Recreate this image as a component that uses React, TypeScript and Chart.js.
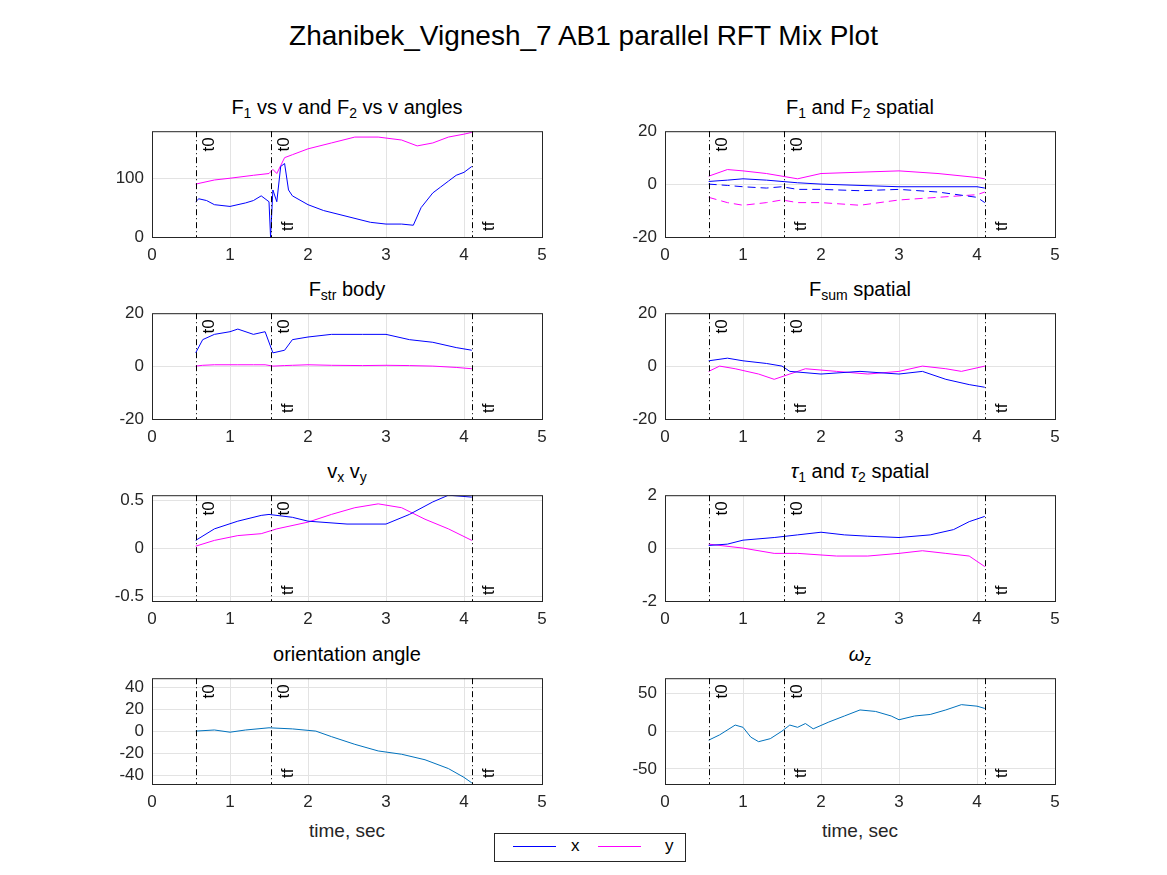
import React, { useEffect, useRef } from "react";
import { Chart, registerables } from "chart.js";
Chart.register(...registerables);

const BLUE = "#0000ff";
const MAG = "#ff00ff";
const DEF = "#0072BD";
const eventLines = [0.56, 1.52, 4.1];
const xTicks = [0, 1, 2, 3, 4, 5];

// Plot 1
const t1b = [0.56,0.6,0.7,0.8,1.0,1.2,1.3,1.4,1.5,1.52,1.55,1.6,1.65,1.7,1.75,1.8,2.0,2.2,2.5,2.8,3.0,3.2,3.35,3.45,3.6,3.7,3.8,3.9,4.0,4.1];
const f1b = [60,65,62,55,52,58,62,70,60,0,80,60,120,125,80,70,55,45,35,25,22,22,20,50,75,85,95,105,110,120];
const t1m = [0.56,0.8,1.0,1.3,1.5,1.55,1.6,1.7,1.8,2.0,2.3,2.6,2.9,3.2,3.4,3.6,3.8,4.0,4.1];
const f1m = [90,97,100,105,108,115,108,135,140,150,160,170,170,165,155,160,170,175,178];
// Plot 2
const t2 = [0.56,0.8,1.0,1.3,1.5,1.7,2.0,2.5,3.0,3.5,4.0,4.1];
const f2bs = [1,1.5,2,1.5,1,0.5,0,-0.5,-1,-1,-1,-1.5];
const f2bd = [0,-0.5,-1,-1.5,-1,-2,-2,-2.5,-2,-3,-5,-7];
const f2ms = [3,5.5,5,4,3,2,4,4.5,5,4,2.5,2];
const f2md = [-5,-7,-8,-7,-6,-7,-7,-8,-6,-5,-4,-3];
// Plot 3
const t3 = [0.56,0.65,0.8,1.0,1.1,1.3,1.45,1.55,1.7,1.8,2.0,2.3,2.7,3.0,3.3,3.6,3.9,4.1];
const f3b = [5,10,12,13,14,12,13,5,6,10,11,12,12,12,10,9,7,6];
const f3m = [0,0.3,0.5,0.5,0.5,0.5,0.5,0,0.2,0.3,0.5,0.3,0.2,0.3,0.2,0,-0.5,-1];
// Plot 4
const t4b = [0.56,0.8,1.0,1.3,1.5,1.6,2.0,2.5,3.0,3.3,3.6,3.9,4.1];
const f4b = [2,3,2,1,0,-2,-3,-2,-3,-2,-5,-7,-8];
const t4m = [0.56,0.7,0.9,1.2,1.4,1.6,1.8,2.2,2.6,3.0,3.3,3.6,3.8,4.1];
const f4m = [-2,0,-1,-3,-5,-3,-1,-2,-3,-2,0,-1,-2,0];
// Plot 5
const t5b = [0.56,0.8,1.1,1.4,1.5,1.8,2.0,2.5,3.0,3.3,3.6,3.8,4.1];
const v5b = [0.08,0.2,0.28,0.34,0.35,0.32,0.28,0.25,0.25,0.35,0.48,0.55,0.53];
const t5m = [0.56,0.8,1.1,1.4,1.6,2.0,2.3,2.6,2.9,3.2,3.5,3.8,4.1];
const v5m = [0.02,0.08,0.13,0.15,0.2,0.27,0.35,0.42,0.46,0.42,0.3,0.2,0.08];
// Plot 6
const t6b = [0.56,0.8,1.0,1.4,1.7,2.0,2.3,2.6,3.0,3.4,3.7,3.9,4.1];
const v6b = [0.1,0.15,0.3,0.4,0.5,0.6,0.5,0.45,0.4,0.5,0.7,1.0,1.2];
const t6m = [0.56,1.0,1.4,1.7,2.2,2.6,3.0,3.3,3.6,3.9,4.1];
const v6m = [0.15,0,-0.2,-0.2,-0.3,-0.3,-0.2,-0.1,-0.2,-0.3,-0.7];
// Plot 7
const t7 = [0.56,0.8,1.0,1.2,1.5,1.8,2.1,2.3,2.6,2.9,3.2,3.5,3.8,4.0,4.1];
const v7 = [0,1,-1,1,3,2,0,-5,-12,-18,-21,-26,-34,-42,-47];
// Plot 8
const t8 = [0.56,0.7,0.9,1.0,1.1,1.2,1.35,1.5,1.6,1.7,1.8,1.9,2.1,2.3,2.5,2.7,2.9,3.0,3.2,3.4,3.6,3.8,4.0,4.1];
const v8 = [-12,-5,8,5,-8,-14,-10,0,8,5,10,3,12,20,28,26,20,15,20,22,28,35,33,30];

const pts = (t: number[], v: number[]) => t.map((x, i) => ({ x, y: v[i] }));
const ds = (t: number[], v: number[], color: string, dash: number[] = []) => ({
  data: pts(t, v), borderColor: color, borderWidth: 1, borderDash: dash, pointRadius: 0, tension: 0,
});

const FONT = "'Liberation Sans', Arial, sans-serif";

const overlay = {
  id: "overlay",
  afterDraw(chart: any) {
    const { ctx, chartArea: a, scales } = chart;
    const xs = scales.x;
    ctx.save();
    ctx.strokeStyle = "#262626";
    ctx.lineWidth = 1;
    ctx.setLineDash([]);
    ctx.strokeRect(a.left + 0.5, a.top + 0.5, a.right - a.left, a.bottom - a.top);
    ctx.strokeStyle = "#000";
    ctx.setLineDash([6, 3, 1, 3]);
    eventLines.forEach((v) => {
      const px = Math.round(xs.getPixelForValue(v)) + 0.5;
      ctx.beginPath(); ctx.moveTo(px, a.top); ctx.lineTo(px, a.bottom); ctx.stroke();
    });
    ctx.setLineDash([]);
    ctx.fillStyle = "#000";
    ctx.font = `17px ${FONT}`;
    ctx.textBaseline = "middle";
    const lbl = (v: number, txt: string, top: boolean) => {
      const px = xs.getPixelForValue(v) + (top ? 14 : 18);
      ctx.save();
      ctx.translate(px, top ? a.top + 6 : a.bottom - 6);
      ctx.rotate(-Math.PI / 2);
      ctx.textAlign = top ? "right" : "left";
      ctx.fillText(txt, 0, 0);
      ctx.restore();
    };
    lbl(eventLines[0], "t0", true);
    lbl(eventLines[1], "t0", true);
    lbl(eventLines[1], "tf", false);
    lbl(eventLines[2], "tf", false);
    ctx.restore();
  },
};

const PADL = 70, PADR = 20, PADT = 10, PADB = 35, EXTRA = 8;

function Sub(props: { left: number; top: number; w: number; h: number; ymin: number; ymax: number; yticks: number[]; datasets: any[]; title: React.ReactNode; xlabel?: boolean }) {
  const ref = useRef<HTMLCanvasElement>(null);
  useEffect(() => {
    const c = new Chart(ref.current!, {
      type: "line",
      data: { datasets: props.datasets },
      plugins: [overlay],
      options: {
        animation: false, responsive: false, maintainAspectRatio: false,
        layout: { padding: { left: 0, right: PADR, top: PADT, bottom: 0 } },
        plugins: { legend: { display: false }, tooltip: { enabled: false } },
        scales: {
          x: {
            type: "linear", min: 0, max: 5,
            afterBuildTicks: (s: any) => { s.ticks = xTicks.map((v) => ({ value: v })); },
            afterFit: (s: any) => { s.height = PADB; },
            grid: { color: "#e3e3e3", drawTicks: false },
            border: { display: false },
            ticks: { color: "#262626", font: { size: 17, family: FONT }, padding: 8 },
          },
          y: {
            type: "linear", min: props.ymin, max: props.ymax,
            afterBuildTicks: (s: any) => { s.ticks = props.yticks.map((v) => ({ value: v })); },
            afterFit: (s: any) => { s.width = PADL; },
            grid: { color: "#e3e3e3", drawTicks: false },
            border: { display: false },
            ticks: { color: "#262626", font: { size: 17, family: FONT }, padding: 8 },
          },
        },
      } as any,
    });
    return () => c.destroy();
  }, []);
  return (
    <>
      <div style={{ position: "absolute", left: props.left, width: props.w, top: props.top - 35, textAlign: "center", fontSize: 20, fontFamily: FONT, color: "#000", whiteSpace: "nowrap" }}>{props.title}</div>
      <canvas ref={ref} width={props.w + PADL + PADR} height={props.h + PADT + PADB + EXTRA}
        style={{ position: "absolute", left: props.left - PADL, top: props.top - PADT - EXTRA }} />
      {props.xlabel && <div style={{ position: "absolute", left: props.left, width: props.w, top: props.top + props.h + 36, textAlign: "center", fontSize: 19, fontFamily: FONT, color: "#262626" }}>time, sec</div>}
    </>
  );
}

const sub = (s: string) => <sub style={{ fontSize: 14, verticalAlign: "-4px" }}>{s}</sub>;

export default function App() {
  const L = 152, R = 665, W = 390;
  const rows = [131, 313, 495, 678];
  const H = 106;
  return (
    <div style={{ position: "absolute", left: 0, top: 0, width: 1167, height: 875, background: "#fff" }}>
      <div style={{ position: "absolute", left: 0, width: 1167, top: 20, textAlign: "center", fontSize: 28, fontFamily: FONT }}>Zhanibek_Vignesh_7 AB1 parallel RFT Mix Plot</div>
      <Sub left={L} top={rows[0]} w={W} h={H} ymin={0} ymax={180} yticks={[0, 100]}
        datasets={[ds(t1b, f1b, BLUE), ds(t1m, f1m, MAG)]} title={<>F{sub("1")} vs v and F{sub("2")} vs v angles</>} />
      <Sub left={R} top={rows[0]} w={W} h={H} ymin={-20} ymax={20} yticks={[-20, 0, 20]}
        datasets={[ds(t2, f2bs, BLUE), ds(t2, f2bd, BLUE, [8, 5]), ds(t2, f2ms, MAG), ds(t2, f2md, MAG, [8, 5])]} title={<>F{sub("1")} and F{sub("2")} spatial</>} />
      <Sub left={L} top={rows[1]} w={W} h={H} ymin={-20} ymax={20} yticks={[-20, 0, 20]}
        datasets={[ds(t3, f3b, BLUE), ds(t3, f3m, MAG)]} title={<>F{sub("str")} body</>} />
      <Sub left={R} top={rows[1]} w={W} h={H} ymin={-20} ymax={20} yticks={[-20, 0, 20]}
        datasets={[ds(t4b, f4b, BLUE), ds(t4m, f4m, MAG)]} title={<>F{sub("sum")} spatial</>} />
      <Sub left={L} top={rows[2]} w={W} h={H} ymin={-0.55} ymax={0.55} yticks={[-0.5, 0, 0.5]}
        datasets={[ds(t5b, v5b, BLUE), ds(t5m, v5m, MAG)]} title={<>v{sub("x")} v{sub("y")}</>} />
      <Sub left={R} top={rows[2]} w={W} h={H} ymin={-2} ymax={2} yticks={[-2, 0, 2]}
        datasets={[ds(t6b, v6b, BLUE), ds(t6m, v6m, MAG)]} title={<><i>τ</i>{sub("1")} and <i>τ</i>{sub("2")} spatial</>} />
      <Sub left={L} top={rows[3]} w={W} h={H} ymin={-48} ymax={48} yticks={[-40, -20, 0, 20, 40]} xlabel
        datasets={[ds(t7, v7, DEF)]} title={<>orientation angle</>} />
      <Sub left={R} top={rows[3]} w={W} h={H} ymin={-70} ymax={70} yticks={[-50, 0, 50]} xlabel
        datasets={[ds(t8, v8, DEF)]} title={<><i>ω</i>{sub("z")}</>} />
      <div style={{ position: "absolute", left: 494, top: 833, width: 190, height: 27, border: "1px solid #262626", background: "#fff", fontFamily: FONT, fontSize: 17 }}>
        <div style={{ position: "absolute", left: 18, top: 12, width: 43, height: 1, background: BLUE }} />
        <div style={{ position: "absolute", left: 76, top: 2 }}>x</div>
        <div style={{ position: "absolute", left: 103, top: 12, width: 43, height: 1, background: MAG }} />
        <div style={{ position: "absolute", left: 170, top: 2 }}>y</div>
      </div>
    </div>
  );
}
